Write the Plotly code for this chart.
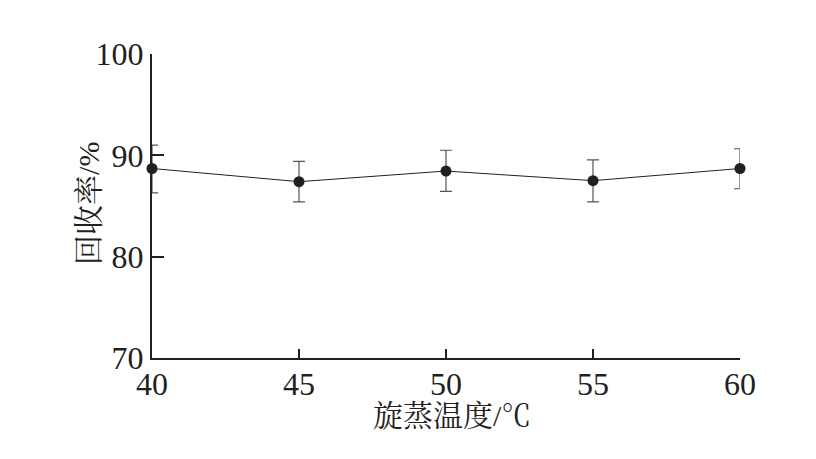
import plotly.graph_objects as go

temps = [40, 45, 50, 55, 60]
recovery = [88.7, 87.4, 88.45, 87.5, 88.7]
err_plus = [2.3, 2.0, 2.05, 2.05, 1.95]
err_minus = [2.4, 2.0, 2.0, 2.1, 2.0]
x_ticks = [40, 45, 50, 55, 60]
y_ticks = [70, 80, 90, 100]
x_title = "旋蒸温度/℃"
y_title = "回收率/%"

num_font = "Liberation Serif"
cjk_font = "Liberation Serif, Noto Serif CJK SC, Noto Sans CJK SC"
ink = "#231f20"

fig = go.Figure()
fig.add_trace(go.Scatter(
    x=temps, y=recovery, mode="lines+markers",
    line=dict(color=ink, width=1),
    marker=dict(color=ink, size=11),
    error_y=dict(type="data", symmetric=False, array=err_plus, arrayminus=err_minus,
                 color="#555555", thickness=1.2, width=6),
    cliponaxis=False, showlegend=False,
))

fig.update_layout(
    width=816, height=459,
    margin=dict(l=144, r=84, t=46, b=109),
    paper_bgcolor="white", plot_bgcolor="white",
    font=dict(family=num_font, color=ink, size=32),
    xaxis=dict(
        range=[40, 60], tickvals=x_ticks, ticktext=[str(v) for v in x_ticks],
        showline=True, linecolor=ink, linewidth=2, mirror=False,
        ticks="inside", ticklen=9, tickwidth=2, tickcolor=ink,
        showgrid=False, zeroline=False,
        tickfont=dict(size=32, family=num_font, color=ink),
        ticklabelstandoff=-3,
    ),
    yaxis=dict(
        range=[70, 100], tickvals=y_ticks, ticktext=[str(v) for v in y_ticks],
        showline=True, linecolor=ink, linewidth=2, mirror=False,
        ticks="inside", ticklen=12, tickwidth=2, tickcolor=ink,
        showgrid=False, zeroline=False,
        tickfont=dict(size=32, family=num_font, color=ink),
    ),
    annotations=[
        dict(text=x_title, xref="paper", yref="paper", x=0.51, y=-0.19,
             xanchor="center", yanchor="middle", showarrow=False,
             font=dict(size=30, family=cjk_font, color=ink)),
        dict(text=y_title, xref="paper", yref="paper", x=-0.107, y=0.507,
             xanchor="center", yanchor="middle", showarrow=False, textangle=-90,
             font=dict(size=30, family=cjk_font, color=ink)),
    ],
)

fig.write_html("out.html")
